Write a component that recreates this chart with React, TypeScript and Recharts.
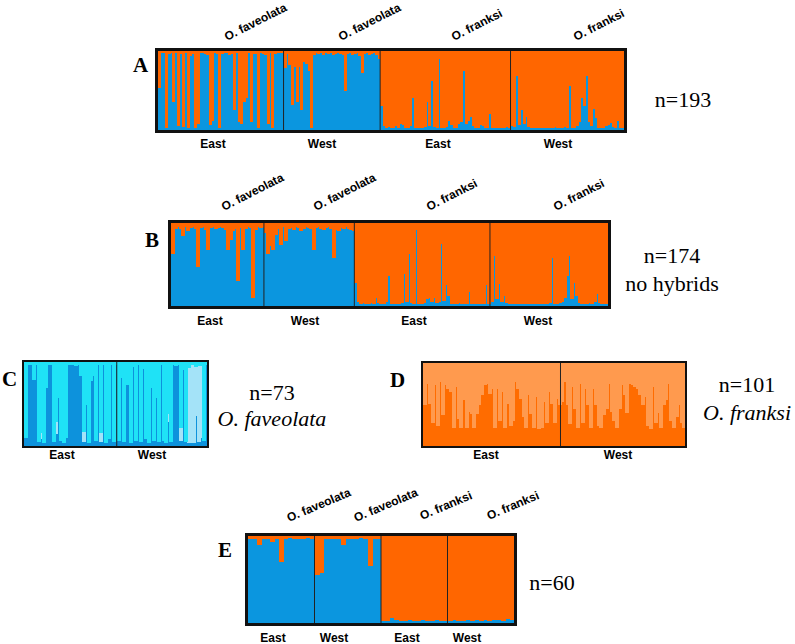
import React from "react";
import { BarChart, Bar, XAxis, YAxis, ReferenceLine } from "recharts";

// cluster membership per individual (fraction of the "faveolata" cluster, blue)
const aFavEast = [
  0.53, 0.98, 0.97, 0.03, 0.96, 0.97, 0.35, 0.97, 0.05, 0.96,
  0.04, 0.97, 0.02, 0.94, 0.96, 0.03, 0.08, 0.97, 0.98, 0.96,
  0.95, 0.06, 0.12, 0.97, 0.96, 0.02, 0.96, 0.97, 0.98, 0.95,
  0.96, 0.25, 0.97, 0.1, 0.08, 0.35, 0.4, 0.97, 0.1, 0.96,
  0.96, 0.03, 0.97, 0.96, 0.95, 0.08, 0.97, 0.02, 0.96, 0.97,
  0.98, 0.97,
];
const aFavWest = [
  0.78, 0.96, 0.82, 0.32, 0.8, 0.35, 0.8, 0.25, 0.86, 0.84,
  0.75, 0.03, 0.95, 0.97, 0.96, 0.97, 0.95, 0.97, 0.96, 0.98,
  0.95, 0.96, 0.97, 0.96, 0.95, 0.5, 0.96, 0.97, 0.95, 0.96,
  0.97, 0.94, 0.72, 0.96, 0.97, 0.95, 0.96, 0.97, 0.95, 0.9,
];
const aFraEast = [
  0.31, 0.05, 0.03, 0.04, 0.02, 0.03, 0.05, 0.03, 0.07, 0.06,
  0.03, 0.02, 0.05, 0.4, 0.03, 0.02, 0.03, 0.02, 0.04, 0.35,
  0.05, 0.62, 0.04, 0.02, 0.9, 0.03, 0.02, 0.04, 0.12, 0.06,
  0.03, 0.02, 0.08, 0.1, 0.75, 0.08, 0.12, 0.16, 0.05, 0.03,
  0.02, 0.06, 0.05, 0.03, 0.02, 0.2, 0.03, 0.02, 0.02, 0.03,
  0.02, 0.02, 0.04, 0.03,
];
const aFraWest = [
  0.05, 0.04, 0.68, 0.06, 0.25, 0.08, 0.17, 0.04, 0.03, 0.02,
  0.03, 0.02, 0.02, 0.03, 0.02, 0.02, 0.03, 0.02, 0.04, 0.02,
  0.03, 0.02, 0.04, 0.03, 0.56, 0.03, 0.02, 0.05, 0.1, 0.4,
  0.3, 0.68, 0.1, 0.05, 0.27, 0.15, 0.03, 0.02, 0.03, 0.05,
  0.06, 0.09, 0.04, 0.02, 0.12, 0.03, 0.02,
];

const bFavEast = [
  0.63, 0.93, 0.95, 0.93, 0.84, 0.95, 0.9, 0.94, 0.95, 0.93,
  0.47, 0.94, 0.95, 0.92, 0.67, 0.94, 0.95, 0.93, 0.94, 0.95,
  0.94, 0.92, 0.67, 0.8, 0.9, 0.93, 0.3, 0.94, 0.67, 0.93,
  0.95, 0.94, 0.1, 0.92, 0.95, 0.94, 0.95,
];
const bFavWest = [
  0.88, 0.63, 0.72, 0.68, 0.85, 0.93, 0.74, 0.95, 0.78, 0.93,
  0.94, 0.92, 0.95, 0.94, 0.9, 0.93, 0.95, 0.94, 0.93, 0.68,
  0.94, 0.95, 0.93, 0.92, 0.94, 0.95, 0.93, 0.58, 0.92, 0.9,
  0.94, 0.93, 0.95, 0.93, 0.92, 0.9,
];
const bFraEast = [
  0.28, 0.05, 0.03, 0.04, 0.02, 0.03, 0.04, 0.03, 0.1, 0.04,
  0.02, 0.03, 0.05, 0.36, 0.03, 0.02, 0.03, 0.02, 0.04, 0.38,
  0.05, 0.63, 0.04, 0.02, 0.91, 0.03, 0.02, 0.04, 0.08, 0.1,
  0.05, 0.1, 0.04, 0.05, 0.75, 0.06, 0.25, 0.12, 0.03, 0.02,
  0.03, 0.04, 0.02, 0.03, 0.02, 0.17, 0.03, 0.02, 0.03, 0.02,
  0.03, 0.02, 0.25, 0.03,
];
const bFraWest = [
  0.05, 0.6, 0.08, 0.27, 0.05, 0.12, 0.04, 0.03, 0.02, 0.03,
  0.02, 0.02, 0.03, 0.02, 0.02, 0.03, 0.02, 0.03, 0.02, 0.02,
  0.03, 0.02, 0.03, 0.04, 0.58, 0.03, 0.02, 0.04, 0.05, 0.1,
  0.36, 0.6, 0.08, 0.28, 0.12, 0.04, 0.03, 0.02, 0.03, 0.04,
  0.03, 0.05, 0.14, 0.04, 0.03, 0.02, 0.03,
];

// panel C: O. faveolata only, three clusters (mid blue, light blue, cyan = rest)
const cMidEast = [
  0.1, 0.97, 0.96, 0.79, 0.97, 0.05, 0.08, 0.04, 0.69, 0.97,
  0.96, 0.05, 0.14, 0.57, 0.06, 0.04, 0.1, 0.97, 0.96, 0.97,
  0.95, 0.96, 0.83, 0.05, 0.49, 0.04, 0.77, 0.83, 0.06, 0.97,
  0.05, 0.97, 0.04, 0.08, 0.97, 0.05, 0.97,
];
const cLightEast = [
  0, 0, 0, 0, 0, 0, 0.08, 0, 0, 0,
  0, 0, 0.15, 0, 0, 0, 0, 0, 0, 0,
  0, 0, 0, 0.12, 0, 0, 0, 0, 0, 0,
  0.1, 0, 0, 0, 0, 0, 0,
];
const cMidWest = [
  0.06, 0.81, 0.05, 0.73, 0.73, 0.04, 0.94, 0.06, 0.96, 0.05,
  0.92, 0.08, 0.04, 0.69, 0.06, 0.57, 0.05, 0.97, 0.06, 0.04,
  0.28, 0.05, 0.96, 0.95, 0.96, 0.06, 0.9, 0.05, 0.03, 0.04,
  0.03, 0.36, 0.05, 0.1, 0.06, 0.97,
];
const cLightWest = [
  0, 0, 0, 0, 0, 0, 0, 0, 0, 0,
  0, 0, 0, 0, 0, 0, 0, 0, 0, 0,
  0.1, 0, 0, 0, 0, 0.15, 0, 0, 0.9, 0.92,
  0.93, 0.58, 0.9, 0.85, 0, 0,
];

// panel D: O. franksi only, dark orange cluster (pale orange = rest)
const dDarkEast = [
  0.49, 0.75, 0.51, 0.28, 0.73, 0.24, 0.77, 0.37, 0.73, 0.69,
  0.65, 0.22, 0.71, 0.33, 0.22, 0.55, 0.22, 0.41, 0.39, 0.22,
  0.39, 0.49, 0.61, 0.73, 0.75, 0.63, 0.69, 0.22, 0.69, 0.3,
  0.65, 0.22, 0.51, 0.24, 0.3, 0.77, 0.69, 0.57, 0.35, 0.22,
  0.61, 0.39, 0.22, 0.59, 0.2, 0.22, 0.53, 0.28, 0.65, 0.51,
  0.28, 0.57, 0.49,
];
const dDarkWest = [
  0.53, 0.77, 0.49, 0.26, 0.71, 0.45, 0.22, 0.75, 0.28, 0.69,
  0.5, 0.22, 0.69, 0.49, 0.24, 0.22, 0.37, 0.45, 0.75, 0.41,
  0.3, 0.22, 0.45, 0.73, 0.61, 0.4, 0.75, 0.73, 0.71, 0.69,
  0.61, 0.49, 0.59, 0.24, 0.2, 0.71, 0.28, 0.4, 0.22, 0.49,
  0.55, 0.75, 0.3, 0.22, 0.35, 0.5, 0.28, 0.22,
];

const eFavEast = [0.97, 0.97, 0.9, 0.97, 0.97, 0.93, 0.97, 0.7, 0.97, 0.98, 0.97, 0.96, 0.97, 0.98, 0.96];
const eFavWest = [0.55, 0.57, 0.96, 0.96, 0.97, 0.96, 0.9, 0.97, 0.96, 0.97, 0.98, 0.96, 0.65, 0.97, 0.96];
const eFraEast = [0.02, 0.02, 0.06, 0.03, 0.02, 0.02, 0.03, 0.02, 0.02, 0.03, 0.02, 0.02, 0.03, 0.02, 0.02];
const eFraWest = [0.02, 0.03, 0.02, 0.02, 0.04, 0.02, 0.03, 0.02, 0.03, 0.02, 0.03, 0.04, 0.02, 0.05, 0.04];

const BLUE = "#0b96df";
const ORANGE = "#ff6600";
const MID = "#0d92dc";
const LIGHT = "#a4e3f8";
const CYAN = "#1fe2f6";
const DARK = "#ff6c00";
const PALE = "#ff9a4e";

const SANS = "'Liberation Sans', Arial, sans-serif";
const SERIF = "'Liberation Serif', 'Times New Roman', Times, serif";

const r3 = (v: number) => Math.round(v * 1000) / 1000;

const twoWay = (groups: number[][]) =>
  groups.flat().map((b, i) => ({ id: i, blue: b, orange: r3(1 - b) }));

// group boundaries (index of first individual of each later group)
const starts = (groups: number[][]) => {
  const out: number[] = [];
  let n = 0;
  groups.forEach((g, i) => {
    if (i > 0) out.push(n);
    n += g.length;
  });
  return out;
};

const aGroups = [aFavEast, aFavWest, aFraEast, aFraWest];
const bGroups = [bFavEast, bFavWest, bFraEast, bFraWest];
const eGroups = [eFavEast, eFavWest, eFraEast, eFraWest];

const aData = twoWay(aGroups);
const bData = twoWay(bGroups);
const eData = twoWay(eGroups);

const cMid = [...cMidEast, ...cMidWest];
const cLight = [...cLightEast, ...cLightWest];
const cData = cMid.map((m, i) => ({
  id: i,
  mid: m,
  light: cLight[i],
  cyan: r3(1 - m - cLight[i]),
}));

const dData = [...dDarkEast, ...dDarkWest].map((d, i) => ({ id: i, dark: d, pale: r3(1 - d) }));

// recharts rounds bar widths down to whole pixels; widen each bar by 1px so
// neighbouring individuals touch like in a STRUCTURE plot
const solidBar = (color: string) => (p: any) => (
  <rect
    x={p.x}
    y={p.y}
    width={Math.max(0, p.width + 1)}
    height={Math.max(0, p.height)}
    fill={color}
    shapeRendering="crispEdges"
  />
);

type PanelProps = {
  left: number;
  top: number;
  width: number;
  height: number;
  border: number;
  data: any[];
  keys: string[];
  colors: string[];
  breaks: number[];
};

const Panel = ({ left, top, width, height, border, data, keys, colors, breaks }: PanelProps) => (
  <div
    style={{
      position: "absolute",
      left,
      top,
      width,
      height,
      boxSizing: "border-box",
      border: `${border}px solid #111`,
      background: "#fff",
    }}
  >
    <BarChart
      width={width - 2 * border}
      height={height - 2 * border}
      data={data}
      margin={{ top: 0, right: 0, bottom: 0, left: 0 }}
      barCategoryGap={0}
      barGap={0}
    >
      <XAxis dataKey="id" hide />
      <YAxis hide domain={[0, 1]} allowDataOverflow />
      {keys.map((k, i) => (
        <Bar
          key={k}
          dataKey={k}
          stackId="q"
          fill={colors[i]}
          shape={solidBar(colors[i])}
          isAnimationActive={false}
        />
      ))}
      {breaks.map((b) => (
        <ReferenceLine key={b} x={b} position="start" stroke="#222" strokeWidth={1} ifOverflow="visible" />
      ))}
    </BarChart>
  </div>
);

const Species = ({ x, y, text, angle = 27 }: { x: number; y: number; text: string; angle?: number }) => (
  <text x={x} y={y} transform={`rotate(-${angle} ${x} ${y})`} style={{ fontFamily: SANS, fontWeight: 700, fontSize: 12 }}>
    {text}
  </text>
);

const Region = ({ x, y, text }: { x: number; y: number; text: string }) => (
  <text x={x} y={y} textAnchor="middle" style={{ fontFamily: SANS, fontWeight: 700, fontSize: 12 }}>
    {text}
  </text>
);

const Letter = ({ x, y, text }: { x: number; y: number; text: string }) => (
  <text x={x} y={y} style={{ fontFamily: SERIF, fontWeight: 700, fontSize: 21 }}>
    {text}
  </text>
);

const Note = ({ x, y, text, italic }: { x: number; y: number; text: string; italic?: boolean }) => (
  <text x={x} y={y} textAnchor="middle" style={{ fontFamily: SERIF, fontSize: 22, fontStyle: italic ? "italic" : "normal" }}>
    {text}
  </text>
);

export default function App() {
  return (
    <div style={{ position: "absolute", left: 0, top: 0, width: 795, height: 644, background: "#fff", overflow: "hidden" }}>
      <svg width={795} height={644} style={{ position: "absolute", left: 0, top: 0 }}>
        {/* A */}
        <Species x={227} y={41} text="O. faveolata" />
        <Species x={341} y={41} text="O. faveolata" />
        <Species x={454} y={41} text="O. franksi" />
        <Species x={576} y={41} text="O. franksi" />
        <Letter x={133} y={72} text="A" />
        <Region x={213} y={148} text="East" />
        <Region x={322} y={148} text="West" />
        <Region x={438} y={148} text="East" />
        <Region x={558} y={148} text="West" />
        <Note x={683} y={107} text="n=193" />

        {/* B */}
        <Species x={224} y={211} text="O. faveolata" />
        <Species x={316} y={211} text="O. faveolata" />
        <Species x={429} y={211} text="O. franksi" />
        <Species x={556} y={211} text="O. franksi" />
        <Letter x={145} y={247} text="B" />
        <Region x={210} y={325} text="East" />
        <Region x={305} y={325} text="West" />
        <Region x={414} y={325} text="East" />
        <Region x={538} y={325} text="West" />
        <Note x={672} y={263} text="n=174" />
        <Note x={672} y={291} text="no hybrids" />

        {/* C */}
        <Letter x={2} y={386} text="C" />
        <Region x={62} y={459} text="East" />
        <Region x={152} y={459} text="West" />
        <Note x={272} y={400} text="n=73" />
        <Note x={272} y={426} text="O. faveolata" italic />

        {/* D */}
        <Letter x={390} y={387} text="D" />
        <Region x={486} y={459} text="East" />
        <Region x={618} y={459} text="West" />
        <Note x={747} y={392} text="n=101" />
        <Note x={747} y={420} text="O. franksi" italic />

        {/* E */}
        <Species x={289} y={522} text="O. faveolata" angle={23} />
        <Species x={356} y={522} text="O. faveolata" angle={23} />
        <Species x={422} y={520} text="O. franksi" angle={23} />
        <Species x={489} y={520} text="O. franksi" angle={23} />
        <Letter x={218} y={557} text="E" />
        <Region x={273} y={642} text="East" />
        <Region x={334} y={642} text="West" />
        <Region x={407} y={642} text="East" />
        <Region x={467} y={642} text="West" />
        <Note x={552} y={590} text="n=60" />
      </svg>

      <Panel left={155} top={48} width={472} height={85} border={3} data={aData}
        keys={["blue", "orange"]} colors={[BLUE, ORANGE]} breaks={starts(aGroups)} />
      <Panel left={168} top={220} width={443} height={89} border={3} data={bData}
        keys={["blue", "orange"]} colors={[BLUE, ORANGE]} breaks={starts(bGroups)} />
      <Panel left={22} top={360} width={187} height={88} border={2} data={cData}
        keys={["mid", "light", "cyan"]} colors={[MID, LIGHT, CYAN]} breaks={[cMidEast.length]} />
      <Panel left={421} top={361} width={266} height={87} border={2} data={dData}
        keys={["dark", "pale"]} colors={[DARK, PALE]} breaks={[dDarkEast.length]} />
      <Panel left={245} top={533} width={272} height={93} border={3} data={eData}
        keys={["blue", "orange"]} colors={[BLUE, ORANGE]} breaks={starts(eGroups)} />
    </div>
  );
}
